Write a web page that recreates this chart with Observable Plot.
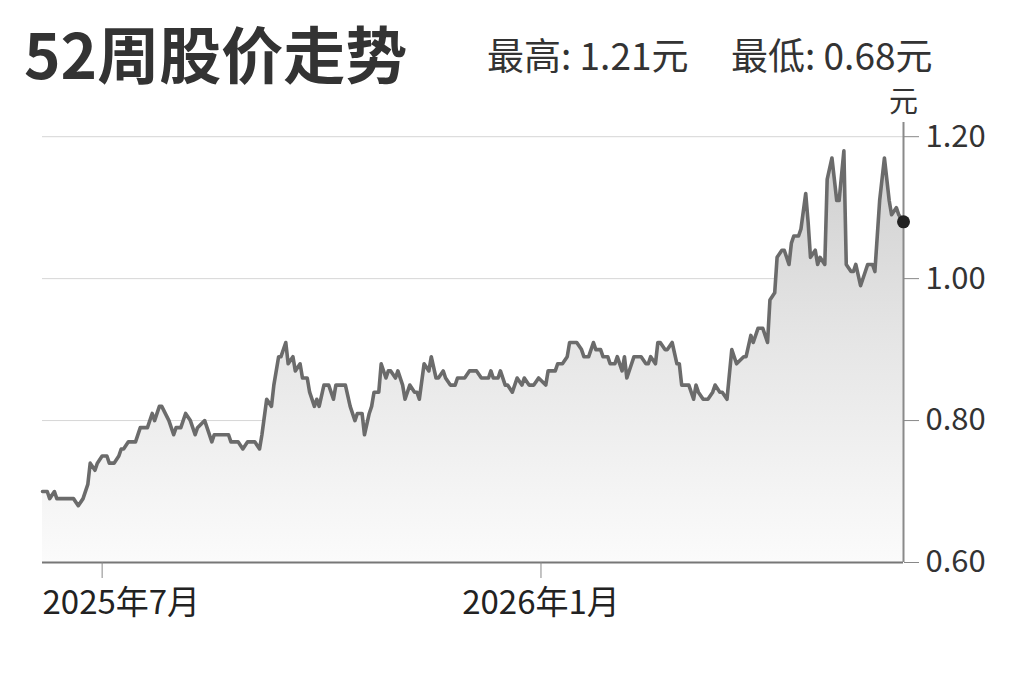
<!DOCTYPE html>
<html>
<head>
<meta charset="utf-8">
<script src="https://cdn.jsdelivr.net/npm/d3@7"></script>
<script src="https://cdn.jsdelivr.net/npm/@observablehq/plot@0.6"></script>
<style>
  html, body { margin: 0; padding: 0; background: #fff; }
  body { width: 1023px; height: 682px; overflow: hidden; font-family: "Noto Sans CJK SC", "Noto Sans", sans-serif; }
  #wrap { position: relative; width: 1023px; height: 682px; }
  #title { position: absolute; left: 24px; top: 21px; font-size: 62px; font-weight: 700; color: #333; line-height: 62px; white-space: nowrap; }
  .sub { position: absolute; top: 36px; font-size: 37px; font-weight: 400; color: #333; line-height: 37px; white-space: nowrap; }
  #hi { left: 487px; }
  #lo { left: 731px; }
  #chart { position: absolute; left: 0; top: 95px; }
</style>
</head>
<body>
<div id="wrap">
  <div id="title"></div>
  <div class="sub" id="hi"></div>
  <div class="sub" id="lo"></div>
  <div id="chart"></div>
</div>
<script>
const titleText = "52周股价走势";
const highText = "最高: 1.21元";
const lowText = "最低: 0.68元";
const unitLabel = "元";

const dates = [
  "2025-06-06","2025-06-08","2025-06-09","2025-06-11","2025-06-12","2025-06-19","2025-06-21","2025-06-23","2025-06-25","2025-06-26",
  "2025-06-28","2025-06-29","2025-07-01","2025-07-03","2025-07-04","2025-07-06","2025-07-08","2025-07-09","2025-07-10","2025-07-12",
  "2025-07-15","2025-07-17","2025-07-20","2025-07-22","2025-07-23","2025-07-25","2025-07-26","2025-07-29","2025-07-31","2025-08-01",
  "2025-08-03","2025-08-05","2025-08-07","2025-08-09","2025-08-10","2025-08-13","2025-08-14","2025-08-16","2025-08-17","2025-08-23",
  "2025-08-24","2025-08-27","2025-08-29","2025-08-31","2025-09-03","2025-09-05","2025-09-06","2025-09-08","2025-09-10","2025-09-11",
  "2025-09-13","2025-09-14","2025-09-16","2025-09-17","2025-09-19","2025-09-20","2025-09-22","2025-09-23","2025-09-25","2025-09-26",
  "2025-09-28","2025-09-29","2025-09-30","2025-10-02","2025-10-04","2025-10-06","2025-10-07","2025-10-11","2025-10-13","2025-10-15",
  "2025-10-16","2025-10-18","2025-10-19","2025-10-21","2025-10-22","2025-10-23","2025-10-25","2025-10-26","2025-10-28","2025-10-29",
  "2025-10-30","2025-11-01","2025-11-02","2025-11-04","2025-11-05","2025-11-07","2025-11-09","2025-11-10","2025-11-11","2025-11-13",
  "2025-11-15","2025-11-16","2025-11-18","2025-11-19","2025-11-21","2025-11-22","2025-11-24","2025-11-26","2025-11-27","2025-11-30",
  "2025-12-02","2025-12-05","2025-12-07","2025-12-10","2025-12-11","2025-12-12","2025-12-14","2025-12-15","2025-12-17","2025-12-18",
  "2025-12-20","2025-12-22","2025-12-24","2025-12-25","2025-12-27","2025-12-29","2025-12-31","2026-01-03","2026-01-04","2026-01-07",
  "2026-01-08","2026-01-10","2026-01-12","2026-01-13","2026-01-16","2026-01-18","2026-01-19","2026-01-21","2026-01-23","2026-01-24",
  "2026-01-26","2026-01-27","2026-01-29","2026-01-30","2026-02-01","2026-02-02","2026-02-04","2026-02-05","2026-02-06","2026-02-08",
  "2026-02-09","2026-02-12","2026-02-14","2026-02-15","2026-02-16","2026-02-18","2026-02-19","2026-02-20","2026-02-22","2026-02-23",
  "2026-02-25","2026-02-27","2026-02-28","2026-03-01","2026-03-04","2026-03-06","2026-03-07","2026-03-08","2026-03-10","2026-03-12",
  "2026-03-14","2026-03-15","2026-03-17","2026-03-18","2026-03-20","2026-03-22","2026-03-24","2026-03-27","2026-03-28","2026-03-30",
  "2026-03-31","2026-04-02","2026-04-04","2026-04-06","2026-04-07","2026-04-09","2026-04-10","2026-04-12","2026-04-13","2026-04-15",
  "2026-04-16","2026-04-17","2026-04-19","2026-04-20","2026-04-22","2026-04-23","2026-04-24","2026-04-26","2026-04-27","2026-04-28",
  "2026-04-30","2026-05-01","2026-05-03","2026-05-05","2026-05-06","2026-05-08","2026-05-09","2026-05-11","2026-05-12","2026-05-13",
  "2026-05-15","2026-05-17","2026-05-18","2026-05-20","2026-05-21","2026-05-23","2026-05-25","2026-05-27","2026-05-28","2026-05-30",
  "2026-05-31","2026-06-02"
];

const prices = [
  0.70,0.70,0.69,0.70,0.69,0.69,0.68,0.69,0.71,0.74,
  0.73,0.74,0.75,0.75,0.74,0.74,0.75,0.76,0.76,0.77,
  0.77,0.79,0.79,0.81,0.80,0.82,0.82,0.80,0.78,0.79,
  0.79,0.81,0.80,0.78,0.79,0.80,0.79,0.77,0.78,0.78,
  0.77,0.77,0.76,0.77,0.77,0.76,0.78,0.83,0.82,0.85,
  0.89,0.89,0.91,0.88,0.89,0.87,0.88,0.86,0.86,0.84,
  0.82,0.83,0.82,0.85,0.85,0.83,0.85,0.85,0.82,0.80,
  0.81,0.81,0.78,0.81,0.82,0.84,0.84,0.88,0.86,0.87,
  0.87,0.86,0.87,0.85,0.83,0.85,0.84,0.84,0.83,0.88,
  0.87,0.89,0.86,0.86,0.87,0.86,0.85,0.85,0.86,0.86,
  0.87,0.87,0.86,0.86,0.87,0.86,0.86,0.87,0.85,0.85,
  0.84,0.86,0.85,0.86,0.85,0.85,0.86,0.85,0.87,0.87,
  0.88,0.88,0.89,0.91,0.91,0.90,0.89,0.89,0.91,0.90,
  0.90,0.89,0.89,0.88,0.88,0.89,0.87,0.89,0.86,0.88,
  0.89,0.89,0.88,0.88,0.89,0.88,0.91,0.91,0.90,0.90,
  0.91,0.88,0.88,0.85,0.85,0.83,0.85,0.84,0.83,0.83,
  0.84,0.85,0.84,0.84,0.83,0.90,0.88,0.89,0.89,0.92,
  0.91,0.93,0.93,0.91,0.97,0.98,1.03,1.04,1.04,1.02,
  1.05,1.06,1.06,1.07,1.12,1.08,1.03,1.04,1.02,1.03,
  1.02,1.14,1.17,1.11,1.11,1.18,1.02,1.01,1.01,1.02,
  0.99,1.01,1.02,1.02,1.01,1.11,1.17,1.11,1.09,1.10,
  1.09,1.08
];

const yDomain = [0.60, 1.22];
const yTicks = [0.60, 0.80, 1.00, 1.20];
const xTickDates = ["2025-07-01", "2026-01-01"];
const xTickLabels = ["2025年7月", "2026年1月"];

document.getElementById("title").textContent = titleText;
document.getElementById("hi").textContent = highText;
document.getElementById("lo").textContent = lowText;

const data = dates.map((d, i) => ({date: new Date(d), value: prices[i]}));
const last = data[data.length - 1];
const xTicks = xTickDates.map(d => new Date(d));
const xTickData = xTicks.map((d, i) => ({date: d, label: xTickLabels[i]}));

const font = '"Noto Sans CJK SC", "Noto Sans", sans-serif';

const plot = Plot.plot({
  width: 1023,
  height: 587,
  marginLeft: 42,
  marginRight: 120,
  marginTop: 27,
  marginBottom: 120,
  style: {fontFamily: font, color: "#333", background: "transparent", overflow: "visible"},
  x: {type: "utc", domain: d3.extent(data, d => d.date)},
  y: {domain: yDomain},
  marks: [
    Plot.gridY(yTicks, {stroke: "#d6d6d6", strokeOpacity: 1, strokeWidth: 1}),
    Plot.areaY(data, {x: "date", y1: yDomain[0], y2: "value", fill: "url(#areaGrad)"}),
    Plot.ruleY([yDomain[0]], {stroke: "#777", strokeWidth: 2}),
    Plot.ruleX([last], {x: "date", stroke: "#8a8a8a", strokeWidth: 2}),
    Plot.lineY(data, {x: "date", y: "value", stroke: "#6b6b6b", strokeWidth: 3.6, strokeLinejoin: "round", strokeLinecap: "round"}),
    Plot.dot([last], {x: "date", y: "value", r: 6.5, fill: "#222", stroke: "none"}),
    Plot.axisY(yTicks, {anchor: "right", tickSize: 15, tickPadding: 7, tickFormat: d3.format(".2f"), fontSize: 31, stroke: "#888", fill: "#333", label: null}),
    Plot.axisX(xTicks, {tickSize: 16, tickFormat: () => "", stroke: "#888", label: null}),
    Plot.text(xTickData.slice(0, 1), {text: "label", frameAnchor: "bottom-left", textAnchor: "start", lineAnchor: "middle", dy: 41, fontSize: 33, fill: "#222"}),
    Plot.text(xTickData.slice(1), {x: "date", text: "label", frameAnchor: "bottom", textAnchor: "middle", lineAnchor: "middle", dy: 41, fontSize: 33, fill: "#222"}),
    Plot.text([unitLabel], {text: d => d, frameAnchor: "top-right", textAnchor: "middle", lineAnchor: "middle", dy: -20, fontSize: 29, fill: "#333"})
  ]
});

d3.select(plot).insert("defs", ":first-child").html(
  '<linearGradient id="areaGrad" x1="0" y1="0" x2="0" y2="1">' +
  '<stop offset="0" stop-color="#cfcfcf"/>' +
  '<stop offset="0.45" stop-color="#e5e5e5"/>' +
  '<stop offset="1" stop-color="#fbfbfb"/>' +
  '</linearGradient>'
);

document.getElementById("chart").appendChild(plot);
</script>
</body>
</html>
